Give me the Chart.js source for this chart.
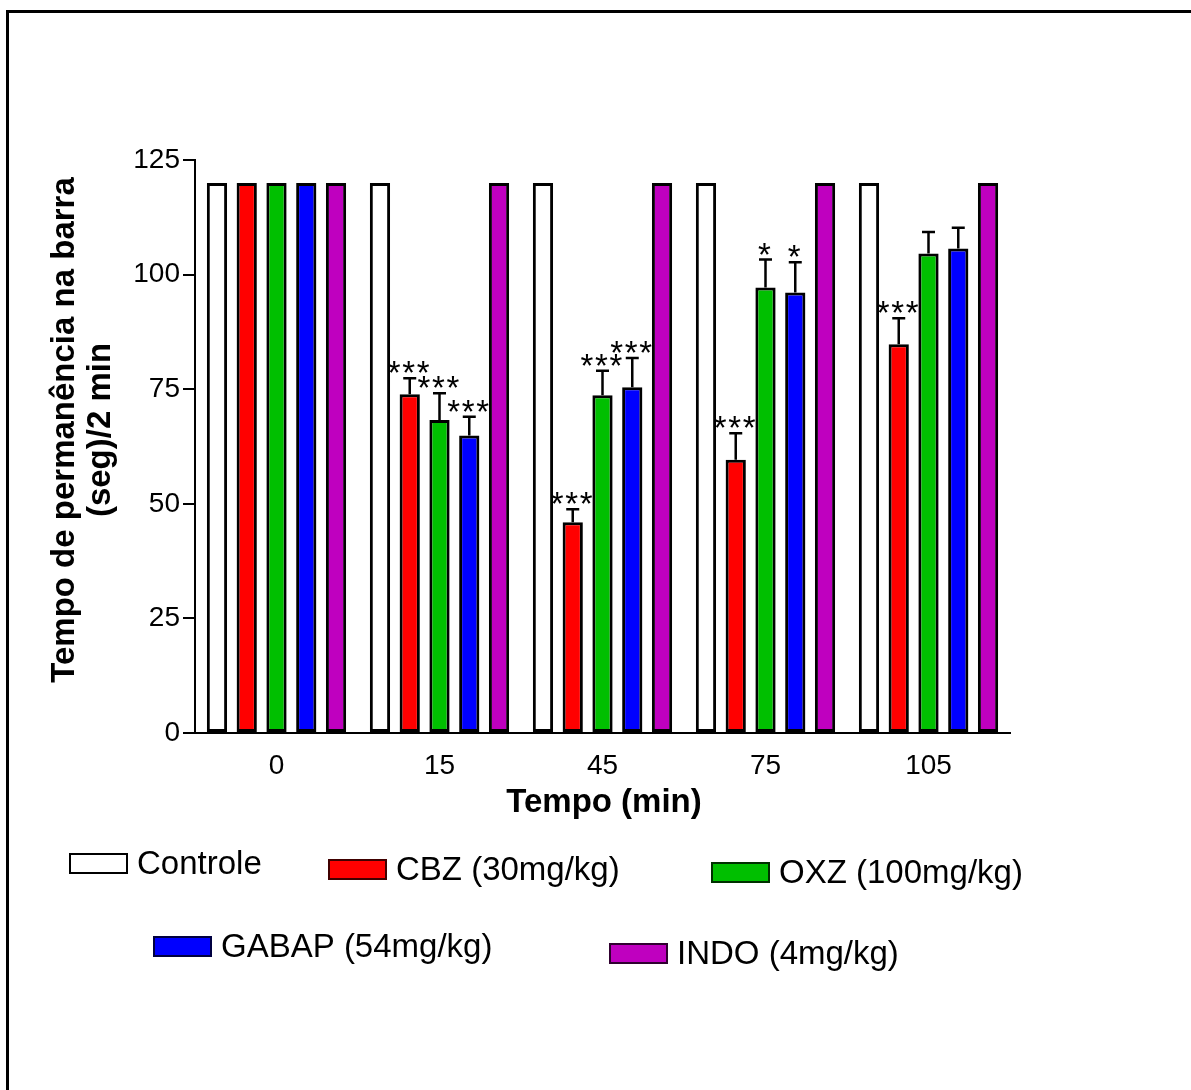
<!DOCTYPE html>
<html><head><meta charset="utf-8">
<script src="https://cdn.jsdelivr.net/npm/chart.js@4.4.0/dist/chart.umd.min.js"></script>
<style>html,body{margin:0;padding:0;background:#fff;overflow:hidden;} #wrap{width:1191px;height:1090px;position:relative;}</style>
</head><body><div id="wrap"><canvas id="c" width="1191" height="1090"></canvas></div>
<script>
// ---- data ----
const categories = ['0', '15', '45', '75', '105'];
const seriesNames = ['Controle', 'CBZ (30mg/kg)', 'OXZ (100mg/kg)', 'GABAP (54mg/kg)', 'INDO (4mg/kg)'];
const controle = [120, 120, 120, 120, 120];
const cbz = [120, 73.9, 46.0, 59.6, 84.8];
const oxz = [120, 68.3, 73.7, 97.2, 104.6];
const gabap = [120, 64.9, 75.4, 96.1, 105.7];
const indo = [120, 120, 120, 120, 120];
const cbzErr = [0, 3.5, 2.8, 5.8, 5.7];
const oxzErr = [0, 5.8, 5.3, 6.1, 4.7];
const gabapErr = [0, 4.1, 6.4, 6.6, 4.5];
const cbzSig = ['', '***', '***', '***', '***'];
const oxzSig = ['', '***', '***', '*', ''];
const gabapSig = ['', '***', '***', '*', ''];
const yTicks = [0, 25, 50, 75, 100, 125];
const yTitle = ['Tempo de permanência na barra', '(seg)/2 min'];
const xTitle = 'Tempo (min)';

const FONT = '"Liberation Sans", Arial, Helvetica, sans-serif';
const fills = ['#FFFFFF', '#FF0000', '#00BF00', '#0000FF', '#BF00BF'];
const legendBorders = ['#000000', '#400000', '#003000', '#000040', '#300030'];

const valuesList = [controle, cbz, oxz, gabap, indo];
const errList = [null, cbzErr, oxzErr, gabapErr, null];
const sigList = [null, cbzSig, oxzSig, gabapSig, null];

const datasets = valuesList.map((v, i) => ({
  label: seriesNames[i],
  data: v,
  backgroundColor: fills[i],
  borderColor: '#000000',
  borderWidth: 3,
  borderSkipped: false,
  categoryPercentage: 0.913,
  barPercentage: 0.68
}));

const errorPlugin = {
  id: 'errorBars',
  afterDatasetsDraw(chart) {
    const ctx = chart.ctx;
    const ys = chart.scales.y;
    ctx.save();
    ctx.strokeStyle = '#000';
    ctx.fillStyle = '#000';
    ctx.lineWidth = 2.5;
    errList.forEach((errs, di) => {
      if (!errs) return;
      const meta = chart.getDatasetMeta(di);
      meta.data.forEach((el, j) => {
        const e = errs[j];
        const v = valuesList[di][j];
        const x = el.x;
        let capY = el.y;
        if (e > 0) {
          capY = ys.getPixelForValue(v + e);
          ctx.beginPath();
          ctx.moveTo(x, el.y);
          ctx.lineTo(x, capY);
          ctx.moveTo(x - 6.5, capY);
          ctx.lineTo(x + 6.5, capY);
          ctx.stroke();
        }
        const s = sigList[di][j];
        if (s) {
          const fs = 33;
          ctx.font = fs + 'px ' + FONT;
          ctx.textAlign = 'center';
          ctx.textBaseline = 'alphabetic';
          const cy = capY - 13;
          const base = cy + 0.58 * fs;
          const n = s.length;
          const sp = 14.5;
          for (let k = 0; k < n; k++) {
            ctx.fillText('*', x - 1 + (k - (n - 1) / 2) * sp, base);
          }
        }
      });
    });
    ctx.restore();
  }
};

const decorPlugin = {
  id: 'decor',
  afterDraw(chart) {
    const ctx = chart.ctx;
    ctx.save();
    // frame
    ctx.strokeStyle = '#000';
    ctx.lineWidth = 3;
    ctx.strokeRect(7.5, 11.5, 1300, 1200);
    // y title
    ctx.fillStyle = '#000';
    ctx.font = 'bold 33px ' + FONT;
    ctx.textAlign = 'center';
    ctx.textBaseline = 'middle';
    ctx.save();
    ctx.translate(65, 430);
    ctx.rotate(-Math.PI / 2);
    ctx.fillText(yTitle[0], 0, 0);
    ctx.restore();
    ctx.save();
    ctx.translate(101, 430);
    ctx.rotate(-Math.PI / 2);
    ctx.fillText(yTitle[1], 0, 0);
    ctx.restore();
    // x title
    ctx.font = 'bold 33px ' + FONT;
    ctx.fillText(xTitle, 604, 803);
    // legend
    const boxes = [[69, 853], [328, 859], [711, 862], [153, 936], [609, 943]];
    ctx.font = '33px ' + FONT;
    ctx.textAlign = 'left';
    ctx.textBaseline = 'middle';
    boxes.forEach((b, i) => {
      const [bx, by] = b;
      ctx.fillStyle = fills[i];
      ctx.fillRect(bx, by, 59, 21);
      ctx.strokeStyle = legendBorders[i];
      ctx.lineWidth = 2;
      ctx.strokeRect(bx + 1, by + 1, 57, 19);
      ctx.fillStyle = '#000';
      ctx.fillText(seriesNames[i], bx + 68, by + 12);
    });
    ctx.restore();
  }
};

Chart.defaults.font.family = FONT;
new Chart(document.getElementById('c'), {
  type: 'bar',
  data: { labels: categories, datasets },
  options: {
    responsive: false,
    devicePixelRatio: 1,
    animation: false,
    layout: { padding: { left: 0, top: 160, right: 181, bottom: 297 } },
    plugins: { legend: { display: false }, tooltip: { enabled: false }, title: { display: false } },
    scales: {
      x: {
        grid: { display: false },
        border: { display: true, color: '#000', width: 2 },
        ticks: { color: '#000', font: { size: 28 }, padding: 8 },
        afterFit(s) { s.height = 60; }
      },
      y: {
        min: 0, max: 125,
        afterBuildTicks(s) { s.ticks = yTicks.map(v => ({ value: v })); },
        grid: { drawOnChartArea: false, drawTicks: true, tickLength: 12, color: '#000', lineWidth: 2 },
        border: { display: true, color: '#000', width: 2 },
        ticks: { color: '#000', font: { size: 28 }, padding: 3 },
        afterFit(s) { s.width = 195; }
      }
    }
  },
  plugins: [errorPlugin, decorPlugin]
});
</script>
</body></html>
